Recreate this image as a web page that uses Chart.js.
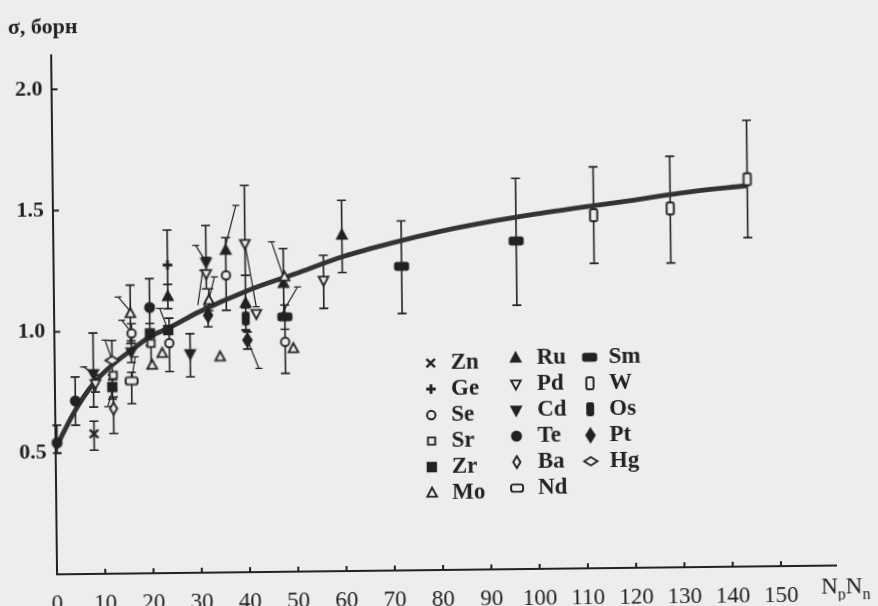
<!DOCTYPE html>
<html>
<head>
<meta charset="utf-8">
<script src="https://cdn.jsdelivr.net/npm/chart.js@4.4.1/dist/chart.umd.min.js"></script>
<style>
  html, body { margin: 0; padding: 0; background: #ededeb; overflow: hidden; }
  /* the scan is a little skewed, so tilt the whole drawing */
  #chart { display: block; transform: rotate(-0.65deg); transform-origin: 50% 50%; }
</style>
</head>
<body>
<canvas id="chart" width="878" height="606"></canvas>
<script>
const xTicks = [0, 10, 20, 30, 40, 50, 60, 70, 80, 90, 100, 110, 120, 130, 140, 150]
const yTicks = [0.5, 1.0, 1.5, 2.0]
const yTickLabels = ['0.5', '1.0', '1.5', '2.0']

// fitted curve
const curveX = [0, 4, 8, 12, 16, 20, 24, 30, 40, 50, 60, 70, 80, 90, 100, 110, 120, 130, 144]
const curveY = [0.52, 0.67, 0.785, 0.862, 0.922, 0.978, 1.013, 1.075, 1.16, 1.228, 1.297, 1.35, 1.395, 1.432, 1.463, 1.49, 1.515, 1.543, 1.571]

// [NpNn, sigma, low, high] ; two values = no error bar
const Zn = [[8.0, 0.578, 0.51, 0.63]]
const Ge = [[23.6, 1.27, 1.13, 1.414]]
const Se = [[16.0, 0.99, 0.95, 1.03], [23.8, 0.948, 0.831, 1.051], [35.7, 1.225], [47.8, 0.948, 0.818, 1.0]]
const Sr = [[12.1, 0.818], [20.0, 0.948, 0.845, 0.99]]
const Zr = [[11.9, 0.77, 0.72, 0.82], [19.8, 0.989, 0.94, 1.03], [23.6, 1.002]]
const Mo = [[15.8, 1.072, 0.949, 1.189], [20.2, 0.858], [22.3, 0.906], [32.1, 1.123, 1.08, 1.17], [34.3, 0.889], [47.8, 1.216], [49.5, 0.92]]
const Ru = [[23.6, 1.14, 1.09, 1.19], [35.7, 1.328, 1.081, 1.38], [39.7, 1.109, 0.997, 1.224], [47.6, 1.189, 1.05, 1.333], [59.8, 1.385, 1.231, 1.529]]
const Pd = [[8.4, 0.785, 0.75, 0.82], [31.6, 1.233, 1.17, 1.30], [39.7, 1.355, 1.094, 1.595], [41.9, 1.066], [55.9, 1.20, 1.084, 1.303]]
const Cd = [[8.0, 0.826, 0.688, 0.993], [15.9, 0.914, 0.87, 0.96], [28.1, 0.904, 0.808, 0.986], [31.6, 1.281, 1.17, 1.432]]
const Te = [[0.3, 0.542, 0.50, 0.615], [4.2, 0.714, 0.614, 0.813], [19.8, 1.096, 1.0, 1.215]]
const Ba = [[12.1, 0.681, 0.578, 0.729]]
const Nd = [[15.9, 0.794, 0.70, 0.83]]
const Sm = [[47.8, 1.051, 1.0, 1.10], [72.1, 1.254, 1.059, 1.441], [95.9, 1.353, 1.088, 1.611]]
const W = [[112.0, 1.456, 1.257, 1.655], [127.9, 1.48, 1.255, 1.695], [143.9, 1.597, 1.356, 1.84]]
const Os = [[39.7, 1.046, 1.0, 1.09]]
const Pt = [[31.9, 1.061, 1.013, 1.10], [40.0, 0.957, 0.92, 0.99]]
const Hg = [[11.9, 0.88, 0.80, 0.962]]

// thin slanted isotope lines, [x1, y1, x2, y2], capped at the first end
const links = [
  [29.5, 1.350, 31.6, 1.281],
  [37.9, 1.513, 35.6, 1.340],
  [45.2, 1.361, 47.6, 1.215],
  [50.5, 1.174, 46.8, 1.051],
  [30.9, 1.247, 29.8, 1.103],
  [33.3, 1.219, 31.9, 1.110],
  [41.9, 1.094, 39.7, 1.355],
  [42.3, 0.840, 40.0, 0.957],
  [6.0, 0.854, 8.0, 0.826],
  [10.5, 0.963, 11.9, 0.880],
  [13.3, 1.141, 15.9, 1.079],
  [14.0, 1.045, 15.9, 0.996],
  [10.9, 0.689, 11.9, 0.757],
  [16.7, 0.893, 15.9, 0.797],
  [21.9, 1.091, 23.6, 1.002]
]

const elementNames = ['Zn', 'Ge', 'Se', 'Sr', 'Zr', 'Mo', 'Ru', 'Pd', 'Cd', 'Te', 'Ba', 'Nd', 'Sm', 'W', 'Os', 'Pt', 'Hg']
const series = [Zn, Ge, Se, Sr, Zr, Mo, Ru, Pd, Cd, Te, Ba, Nd, Sm, W, Os, Pt, Hg]
const markerKinds = ['x', 'plus', 'oc', 'os', 'fs', 'ot', 'ft', 'odt', 'fdt', 'fc', 'od', 'or', 'fr', 'ovr', 'fvr', 'fd', 'ohd']

const INK = '#222222'
const PAPER = '#ededeb'
const SERIF = '"Liberation Serif", "DejaVu Serif", serif'

Chart.defaults.font.family = SERIF
Chart.defaults.color = INK

function roundBox(g, x, y, w, h, r) {
  if (g.roundRect) g.roundRect(x, y, w, h, r)
  else g.rect(x, y, w, h)
}

function makeMarker(kind) {
  const c = document.createElement('canvas')
  c.width = 18
  c.height = 18
  const g = c.getContext('2d')
  g.translate(9, 9)
  g.scale(1.2, 1.2)
  g.strokeStyle = INK
  g.fillStyle = INK
  g.lineWidth = 1.6
  const open = () => { g.fillStyle = PAPER; g.fill(); g.stroke() }
  const solid = () => { g.fill(); g.stroke() }
  g.beginPath()
  switch (kind) {
    case 'x':
      g.lineWidth = 2
      g.moveTo(-3.5, -3.5); g.lineTo(3.5, 3.5)
      g.moveTo(3.5, -3.5); g.lineTo(-3.5, 3.5)
      g.stroke()
      break
    case 'plus':
      g.lineWidth = 2.4
      g.moveTo(-4, 0); g.lineTo(4, 0)
      g.moveTo(0, -4); g.lineTo(0, 4)
      g.stroke()
      break
    case 'oc': g.arc(0, 0, 3.5, 0, Math.PI * 2); open(); break
    case 'fc': g.arc(0, 0, 3.8, 0, Math.PI * 2); solid(); break
    case 'os': g.rect(-3, -3, 6, 6); open(); break
    case 'fs': g.rect(-3.5, -3.5, 7, 7); solid(); break
    case 'ot':
    case 'ft':
      g.moveTo(0, -4.5); g.lineTo(4, 3); g.lineTo(-4, 3); g.closePath()
      kind === 'ot' ? open() : solid()
      break
    case 'odt':
    case 'fdt':
      g.moveTo(0, 4.5); g.lineTo(4, -3); g.lineTo(-4, -3); g.closePath()
      kind === 'odt' ? open() : solid()
      break
    case 'od':
      g.moveTo(0, -5); g.lineTo(3, 0); g.lineTo(0, 5); g.lineTo(-3, 0); g.closePath()
      open()
      break
    case 'fd':
      g.moveTo(0, -5.5); g.lineTo(3.5, 0); g.lineTo(0, 5.5); g.lineTo(-3.5, 0); g.closePath()
      solid()
      break
    case 'ohd':
      g.moveTo(-5.5, 0); g.lineTo(0, -3.5); g.lineTo(5.5, 0); g.lineTo(0, 3.5); g.closePath()
      open()
      break
    case 'or': roundBox(g, -5, -3, 10, 6, 2); open(); break
    case 'fr': roundBox(g, -5.5, -3, 11, 6, 1.5); solid(); break
    case 'ovr': roundBox(g, -3, -5, 6, 10, 1.5); open(); break
    case 'fvr': roundBox(g, -2.5, -5, 5, 10, 1); solid(); break
  }
  return c
}

const markers = markerKinds.map(makeMarker)

const legendColumns = [
  { symbolX: 430, textX: 450, top: 363, items: [0, 1, 2, 3, 4, 5] },
  { symbolX: 515, textX: 536, top: 359, items: [6, 7, 8, 9, 10, 11] },
  { symbolX: 589, textX: 608, top: 359, items: [12, 13, 14, 15, 16] }
]

const errorBars = {
  id: 'errorBars',
  beforeDatasetsDraw(chart) {
    const { ctx, scales: { x, y } } = chart
    ctx.save()
    ctx.strokeStyle = INK
    ctx.lineWidth = 1.6
    ctx.beginPath()
    chart.data.datasets.forEach(ds => ds.data.forEach(p => {
      if (p.lo === undefined || p.lo === p.hi) return
      const px = x.getPixelForValue(p.x)
      const top = y.getPixelForValue(p.hi)
      const bot = y.getPixelForValue(p.lo)
      ctx.moveTo(px, top); ctx.lineTo(px, bot)
      ctx.moveTo(px - 4.5, top); ctx.lineTo(px + 4.5, top)
      ctx.moveTo(px - 4.5, bot); ctx.lineTo(px + 4.5, bot)
    }))
    ctx.stroke()

    ctx.lineWidth = 1.2
    ctx.beginPath()
    links.forEach(([x1, y1, x2, y2]) => {
      const ax = x.getPixelForValue(x1), ay = y.getPixelForValue(y1)
      ctx.moveTo(ax, ay)
      ctx.lineTo(x.getPixelForValue(x2), y.getPixelForValue(y2))
      ctx.moveTo(ax - 3.5, ay); ctx.lineTo(ax + 3.5, ay)
    })
    ctx.stroke()
    ctx.restore()
  }
}

const decorations = {
  id: 'decorations',
  afterDraw(chart) {
    const { ctx, chartArea, scales: { x, y } } = chart
    ctx.save()
    ctx.strokeStyle = INK
    ctx.lineWidth = 2
    ctx.beginPath()
    xTicks.filter(v => v > 0).forEach(v => {
      const px = x.getPixelForValue(v)
      ctx.moveTo(px, chartArea.bottom)
      ctx.lineTo(px, chartArea.bottom - 5)
    })
    yTicks.forEach(v => {
      const py = y.getPixelForValue(v)
      ctx.moveTo(chartArea.left, py)
      ctx.lineTo(chartArea.left + 6, py)
    })
    ctx.stroke()

    ctx.fillStyle = INK
    ctx.textBaseline = 'alphabetic'
    ctx.font = 'bold 22px ' + SERIF
    ctx.fillText('σ, борн', 11, 29)

    // N_p N_n
    let tx = 818
    ctx.font = '23px ' + SERIF
    ctx.fillText('N', tx, 598)
    tx += ctx.measureText('N').width
    ctx.font = '16px ' + SERIF
    ctx.fillText('p', tx, 604)
    tx += ctx.measureText('p').width
    ctx.font = '23px ' + SERIF
    ctx.fillText('N', tx, 598)
    tx += ctx.measureText('N').width
    ctx.font = '16px ' + SERIF
    ctx.fillText('n', tx, 604)

    ctx.font = 'bold 23px ' + SERIF
    ctx.textBaseline = 'middle'
    legendColumns.forEach(col => {
      col.items.forEach((i, row) => {
        const ly = col.top + row * 26
        const m = markers[i]
        ctx.drawImage(m, col.symbolX - m.width / 2, ly - m.height / 2)
        ctx.fillText(elementNames[i], col.textX, ly)
      })
    })
    ctx.restore()
  }
}

const datasets = elementNames.map((name, i) => ({
  label: name,
  data: series[i].map(([vx, vy, lo, hi]) => ({ x: vx, y: vy, lo, hi })),
  pointStyle: markers[i],
  pointRadius: 4,
  showLine: false,
  clip: false,
  order: 0
}))

datasets.push({
  type: 'line',
  label: 'fit',
  data: curveX.map((vx, i) => ({ x: vx, y: curveY[i] })),
  borderColor: '#333333',
  borderWidth: 4.8,
  pointRadius: 0,
  cubicInterpolationMode: 'monotone',
  fill: false,
  clip: false,
  order: 1
})

new Chart(document.getElementById('chart'), {
  type: 'scatter',
  data: { datasets },
  plugins: [errorBars, decorations],
  options: {
    responsive: false,
    animation: false,
    events: [],
    layout: { padding: { top: 51, right: 45, left: 0, bottom: 0 } },
    plugins: {
      legend: { display: false },
      tooltip: { enabled: false }
    },
    scales: {
      x: {
        type: 'linear',
        min: 0,
        max: 161.4,
        afterBuildTicks: axis => { axis.ticks = xTicks.map(value => ({ value })) },
        afterFit: axis => { axis.height = 36 },
        ticks: {
          autoSkip: false,
          maxRotation: 0,
          padding: 16,
          color: INK,
          font: { size: 23 },
          callback: (value) => String(value)
        },
        grid: { display: false, drawTicks: false },
        border: { color: INK, width: 2 }
      },
      y: {
        type: 'linear',
        min: 0,
        max: 2.14,
        afterBuildTicks: axis => { axis.ticks = yTicks.map(value => ({ value })) },
        afterFit: axis => { axis.width = 54 },
        ticks: {
          padding: 9,
          color: INK,
          font: { size: 22, weight: 'bold' },
          callback: (value, index) => yTickLabels[index]
        },
        grid: { display: false, drawTicks: false },
        border: { color: INK, width: 2 }
      }
    }
  }
})
</script>
</body>
</html>
